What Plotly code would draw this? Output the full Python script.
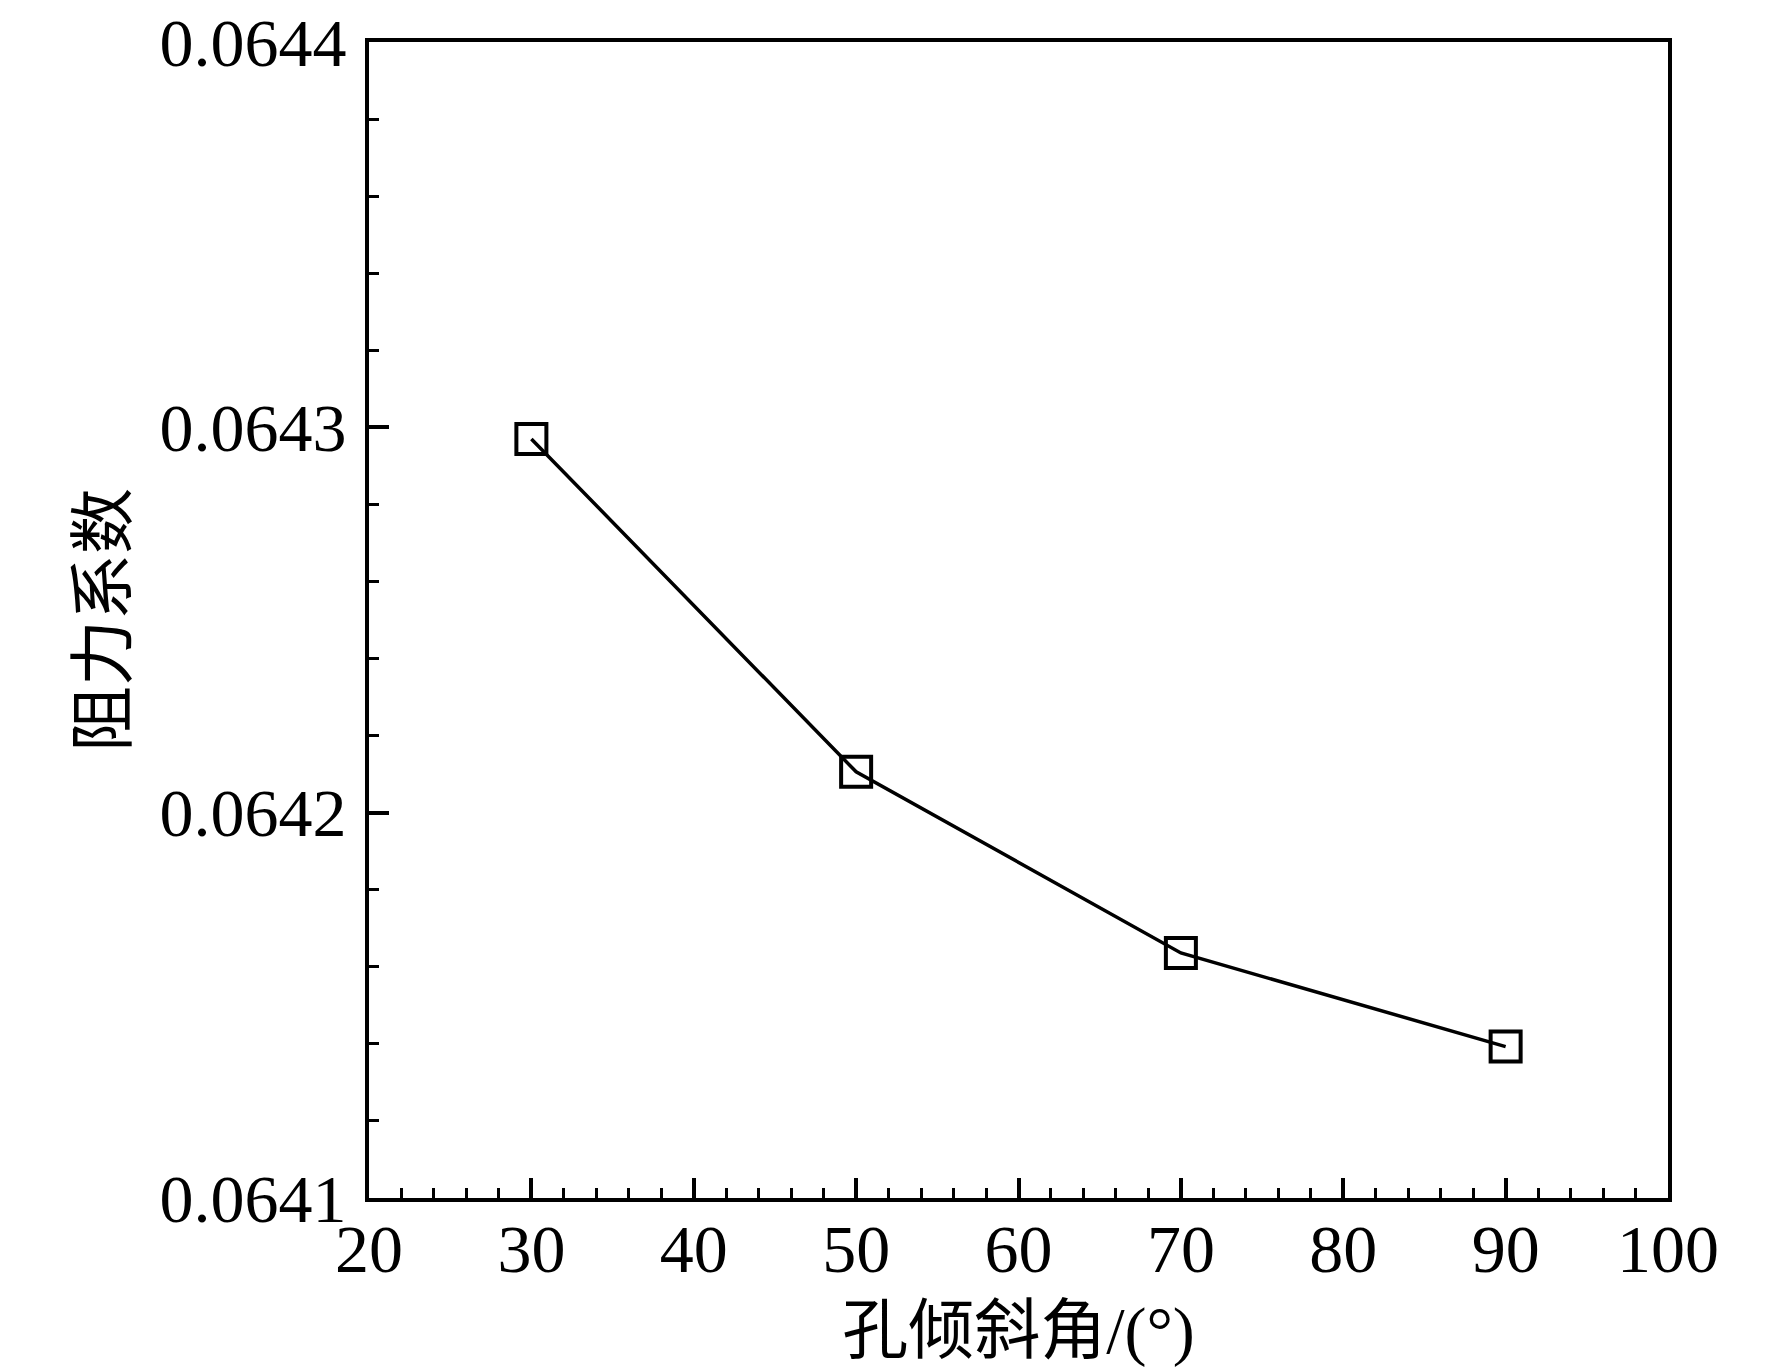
import plotly.graph_objects as go

# hole inclination angle vs. drag coefficient
angles = [30, 50, 70, 90]
drag_coef = [0.064297, 0.0642106, 0.0641636, 0.0641393]

x_ticks = [20, 30, 40, 50, 60, 70, 80, 90, 100]
y_ticks = [0.0641, 0.0642, 0.0643, 0.0644]

font_main = "Liberation Serif, Times New Roman, Noto Sans CJK SC"

fig = go.Figure()
fig.add_trace(
    go.Scatter(
        x=angles,
        y=drag_coef,
        mode="lines+markers",
        line=dict(color="black", width=3.5),
        marker=dict(
            symbol="square-open",
            size=30,
            color="black",
            line=dict(color="black", width=4),
        ),
        showlegend=False,
    )
)

axis_common = dict(
    showline=True,
    linecolor="black",
    linewidth=4,
    mirror=True,
    showgrid=False,
    zeroline=False,
    automargin=False,
    ticks="inside",
    tickwidth=3.5,
    ticklen=20,
    tickcolor="black",
    ticklabeloverflow="allow",
    tickfont=dict(family=font_main, size=68, color="black"),
)

fig.update_xaxes(
    range=[20, 100],
    tickvals=x_ticks,
    ticklabelstandoff=-12,
    minor=dict(dtick=2, ticks="inside", ticklen=10, tickwidth=3, tickcolor="black"),
    title=dict(
        text="孔倾斜角/(°)",
        font=dict(family=font_main, size=66, color="black"),
        standoff=22,
    ),
    **axis_common,
)
fig.update_yaxes(
    range=[0.0641, 0.06440001],
    tickvals=y_ticks,
    tickformat=".4f",
    ticklabelstandoff=5,
    minor=dict(dtick=0.00002, ticks="inside", ticklen=10, tickwidth=3, tickcolor="black"),
    title=dict(
        text="阻力系数",
        font=dict(family=font_main, size=66, color="black"),
        standoff=12,
    ),
    **axis_common,
)

fig.update_layout(
    width=1772,
    height=1372,
    margin=dict(l=361, r=112, t=34, b=182),
    paper_bgcolor="white",
    plot_bgcolor="white",
)

fig.write_html("out.html")
